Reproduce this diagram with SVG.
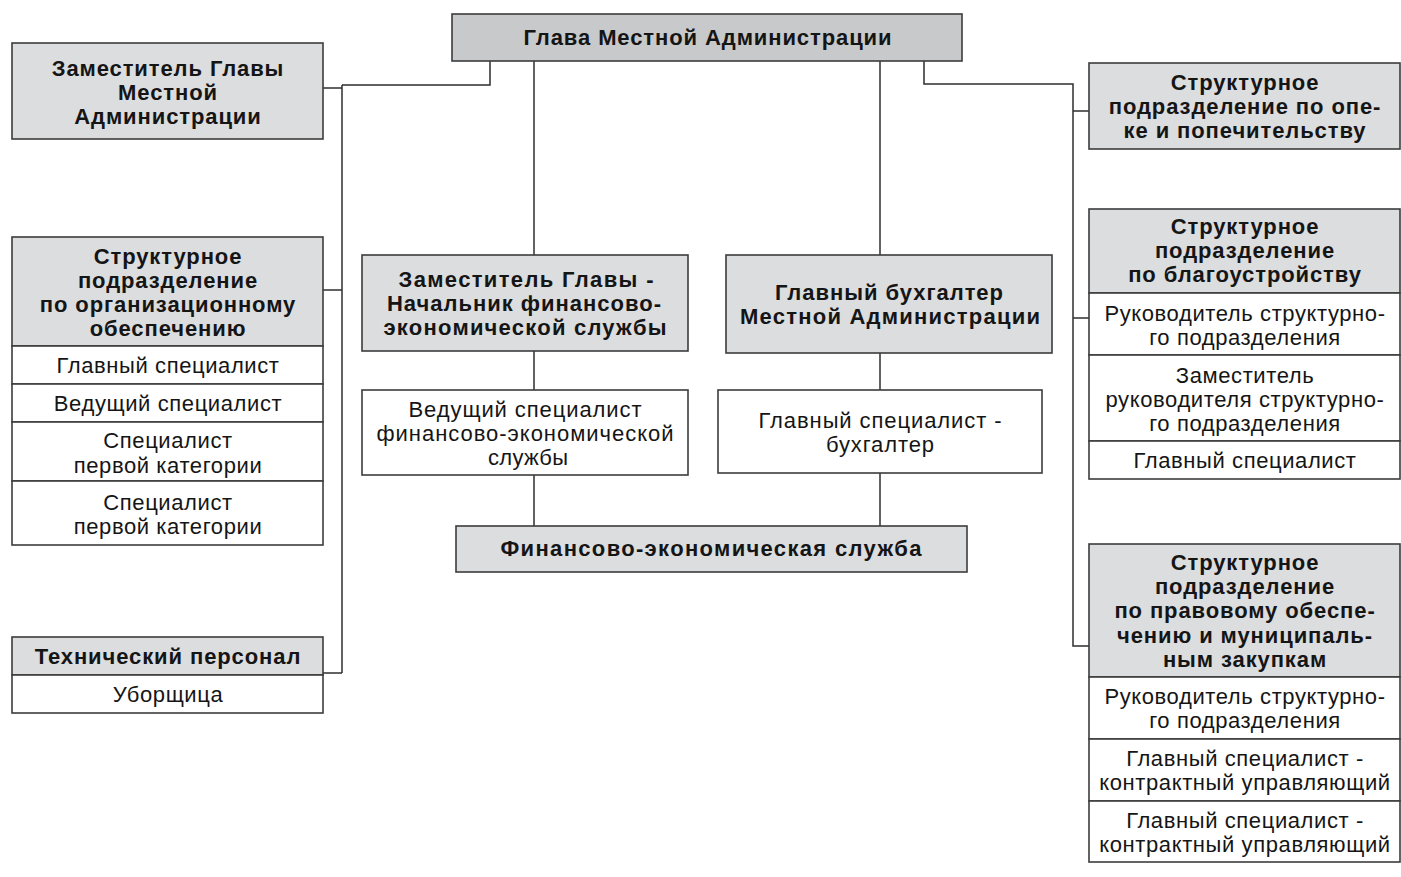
<svg xmlns="http://www.w3.org/2000/svg" width="1401" height="877" viewBox="0 0 1401 877">
<style>
.hd{fill:#dcdddf;stroke:#3c3c3c;stroke-width:1.6}
.tp{fill:#c8c9cb;stroke:#3c3c3c;stroke-width:1.6}
.cl{fill:#ffffff;stroke:#3c3c3c;stroke-width:1.6}
.ln{fill:none;stroke:#2e2e2e;stroke-width:1.5}
text{font-family:"Liberation Sans",Arial,sans-serif;fill:#151515;text-anchor:middle;font-size:22px}
.b{font-weight:bold;letter-spacing:0.9px}
.r{letter-spacing:0.6px}
.cb{font-weight:bold}
</style>
<rect width="1401" height="877" fill="#ffffff"/>
<g id="connectors">
<polyline class="ln" points="490,61 490,85 342,85"/>
<line class="ln" x1="342" y1="85" x2="342" y2="673"/>
<line class="ln" x1="323" y1="88" x2="342" y2="88"/>
<line class="ln" x1="323" y1="290" x2="342" y2="290"/>
<line class="ln" x1="323" y1="673" x2="342" y2="673"/>
<line class="ln" x1="534" y1="61" x2="534" y2="255"/>
<line class="ln" x1="534" y1="351" x2="534" y2="390"/>
<line class="ln" x1="534" y1="475" x2="534" y2="526"/>
<line class="ln" x1="880" y1="61" x2="880" y2="255"/>
<line class="ln" x1="880" y1="353" x2="880" y2="390"/>
<line class="ln" x1="880" y1="473" x2="880" y2="526"/>
<polyline class="ln" points="924,61 924,84 1073,84 1073,646 1089,646"/>
<line class="ln" x1="1073" y1="111" x2="1089" y2="111"/>
<line class="ln" x1="1073" y1="318" x2="1089" y2="318"/>
</g>
<g id="glava">
<rect class="tp" x="452" y="14" width="510" height="47"/>
<text class="b" x="708" y="45">Глава Местной Администрации</text>
</g>
<g id="zam-glavy">
<rect class="hd" x="12" y="43" width="311" height="96"/>
<text class="b" x="168" y="76">Заместитель Главы</text>
<text class="b" x="168" y="100">Местной</text>
<text class="b" x="168" y="124">Администрации</text>
</g>
<g id="org">
<rect class="hd" x="12" y="237" width="311" height="109"/>
<text class="b" x="168" y="264">Структурное</text>
<text class="b" x="168" y="288">подразделение</text>
<text class="b" x="168" y="312">по организационному</text>
<text class="b" x="168" y="336">обеспечению</text>
<rect class="cl" x="12" y="346" width="311" height="38"/>
<text class="r" x="168" y="373">Главный специалист</text>
<rect class="cl" x="12" y="384" width="311" height="38"/>
<text class="r" x="168" y="411">Ведущий специалист</text>
<rect class="cl" x="12" y="422" width="311" height="59"/>
<text class="r" x="168" y="448">Специалист</text>
<text class="r" x="168" y="473">первой категории</text>
<rect class="cl" x="12" y="481" width="311" height="64"/>
<text class="r" x="168" y="510">Специалист</text>
<text class="r" x="168" y="534">первой категории</text>
</g>
<g id="tech">
<rect class="hd" x="12" y="637" width="311" height="38"/>
<text class="b" x="168" y="664">Технический персонал</text>
<rect class="cl" x="12" y="675" width="311" height="38"/>
<text class="r" x="168" y="702">Уборщица</text>
</g>
<g id="zam-fin">
<rect class="hd" x="362" y="255" width="326" height="96"/>
<text class="cb" x="526" y="287" textLength="255" lengthAdjust="spacing">Заместитель Главы -</text>
<text class="cb" x="524" y="311" textLength="274" lengthAdjust="spacing">Начальник финансово-</text>
<text class="cb" x="525" y="335" textLength="283" lengthAdjust="spacing">экономической службы</text>
</g>
<g id="ved-fin">
<rect class="cl" x="362" y="390" width="326" height="85"/>
<text x="525" y="417" textLength="233" lengthAdjust="spacing">Ведущий специалист</text>
<text x="525" y="441" textLength="297" lengthAdjust="spacing">финансово-экономической</text>
<text x="528" y="465" textLength="80" lengthAdjust="spacing">службы</text>
</g>
<g id="glav-buh">
<rect class="hd" x="726" y="255" width="326" height="98"/>
<text class="cb" x="889" y="300" textLength="228" lengthAdjust="spacing">Главный бухгалтер</text>
<text class="cb" x="890" y="324" textLength="300" lengthAdjust="spacing">Местной Администрации</text>
</g>
<g id="glav-spec-buh">
<rect class="cl" x="718" y="390" width="324" height="83"/>
<text x="880" y="428" textLength="243" lengthAdjust="spacing">Главный специалист -</text>
<text x="880" y="452" textLength="108" lengthAdjust="spacing">бухгалтер</text>
</g>
<g id="fin-sluzhba">
<rect class="hd" x="456" y="526" width="511" height="46"/>
<text class="cb" x="711" y="556" textLength="421" lengthAdjust="spacing">Финансово-экономическая служба</text>
</g>
<g id="opeka">
<rect class="hd" x="1089" y="63" width="311" height="86"/>
<text class="b" x="1245" y="90">Структурное</text>
<text class="b" x="1245" y="114">подразделение по опе-</text>
<text class="b" x="1245" y="138">ке и попечительству</text>
</g>
<g id="blago">
<rect class="hd" x="1089" y="209" width="311" height="84"/>
<text class="b" x="1245" y="234">Структурное</text>
<text class="b" x="1245" y="258">подразделение</text>
<text class="b" x="1245" y="282">по благоустройству</text>
<rect class="cl" x="1089" y="293" width="311" height="62"/>
<text class="r" x="1245" y="321">Руководитель структурно-</text>
<text class="r" x="1245" y="345">го подразделения</text>
<rect class="cl" x="1089" y="355" width="311" height="86"/>
<text class="r" x="1245" y="383">Заместитель</text>
<text class="r" x="1245" y="407">руководителя структурно-</text>
<text class="r" x="1245" y="431">го подразделения</text>
<rect class="cl" x="1089" y="441" width="311" height="38"/>
<text class="r" x="1245" y="468">Главный специалист</text>
</g>
<g id="pravo">
<rect class="hd" x="1089" y="544" width="311" height="133"/>
<text class="b" x="1245" y="570">Структурное</text>
<text class="b" x="1245" y="594">подразделение</text>
<text class="b" x="1245" y="618">по правовому обеспе-</text>
<text class="b" x="1245" y="643">чению и муниципаль-</text>
<text class="b" x="1245" y="667">ным закупкам</text>
<rect class="cl" x="1089" y="677" width="311" height="62"/>
<text class="r" x="1245" y="704">Руководитель структурно-</text>
<text class="r" x="1245" y="728">го подразделения</text>
<rect class="cl" x="1089" y="739" width="311" height="62"/>
<text class="r" x="1245" y="766">Главный специалист -</text>
<text class="r" x="1245" y="790">контрактный управляющий</text>
<rect class="cl" x="1089" y="801" width="311" height="61"/>
<text class="r" x="1245" y="828">Главный специалист -</text>
<text class="r" x="1245" y="852">контрактный управляющий</text>
</g>
</svg>
